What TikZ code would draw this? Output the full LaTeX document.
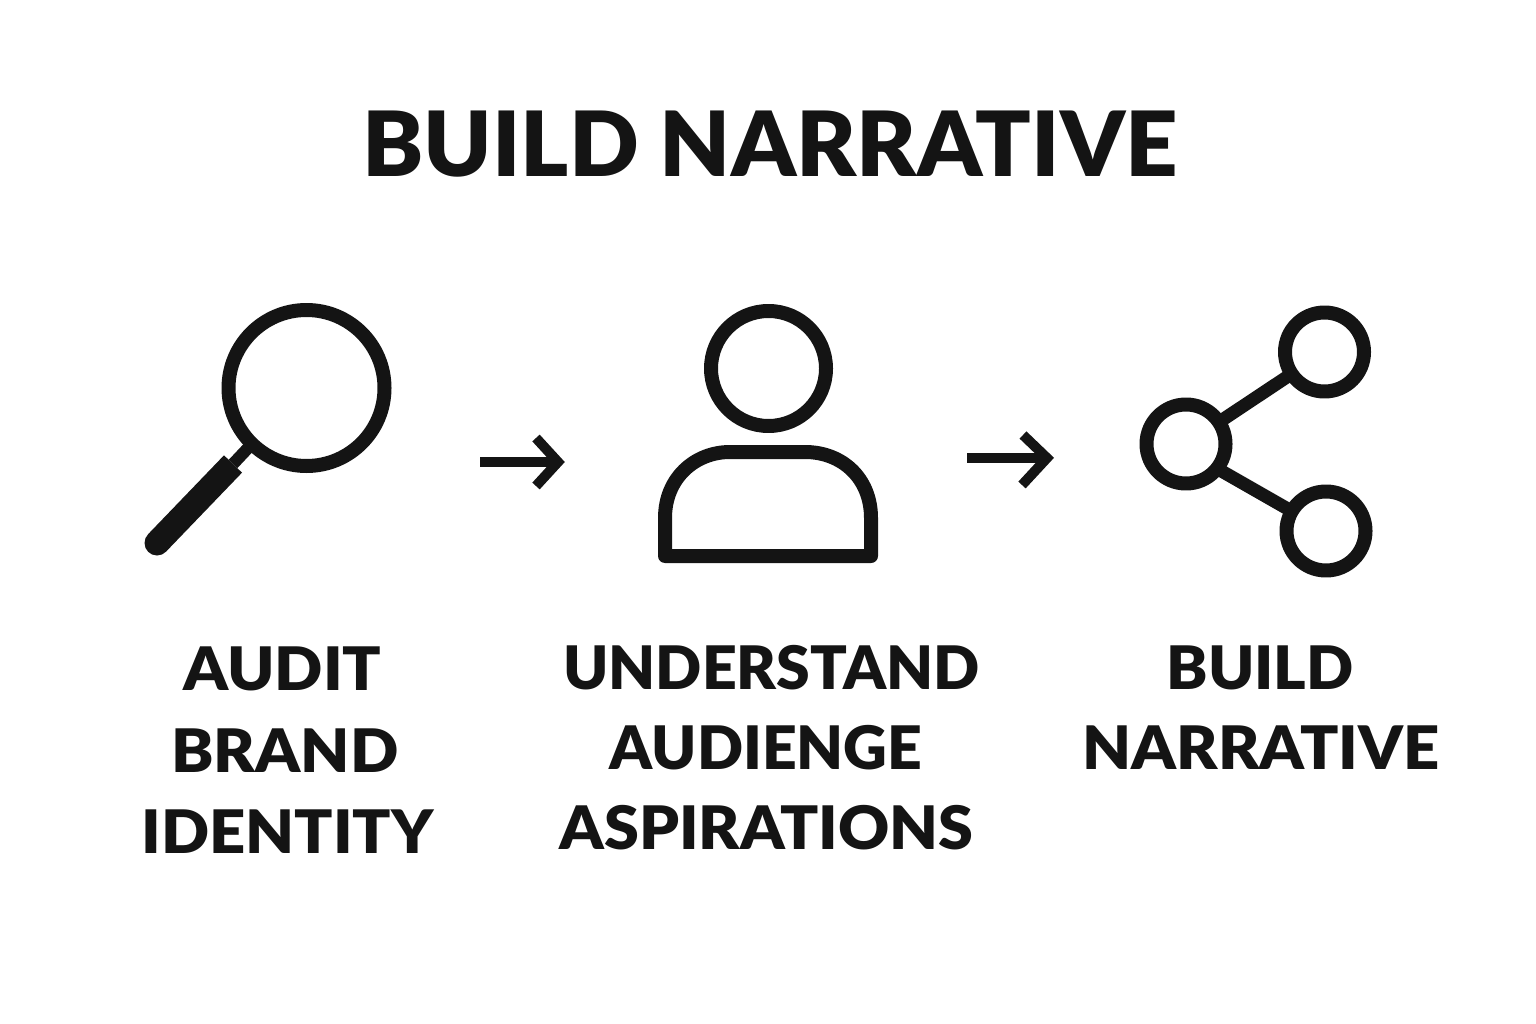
\documentclass[tikz,border=0pt]{standalone}
\usepackage{graphicx}
\usepackage{fontspec}
\setmainfont{Lato}[UprightFont=* Bold,BoldFont=* Black]
\newcommand{\wideby}[2]{\scalebox{#1}[1]{#2}}
\tikzset{
 icon/.style={draw=ink,line width=14pt,line join=round},
 arrowline/.style={draw=ink,line width=10pt,line join=miter},
 spoke/.style={draw=ink,line width=13pt,shorten >=-4pt,shorten <=-4pt},
 txt/.style={text=ink,inner sep=0pt,anchor=center,font=\fontsize{60}{60}\selectfont\bfseries},
 ttl/.style={text=ink,inner sep=0pt,anchor=center,font=\fontsize{90}{90}\selectfont\bfseries}
}
\definecolor{ink}{HTML}{141414}
\begin{document}
\begin{tikzpicture}[x=1pt,y=-1pt]
\useasboundingbox[fill=white] (0,0) rectangle (1536,1024);
\node[ttl] (title) at (770,144) {\wideby{1.019}{BUILD NARRATIVE}};
% magnifier
\node[circle,icon,minimum size=156pt,inner sep=0pt] (lens) at (306.5,388) {};
\coordinate (h0) at (249,447);
\coordinate (h1) at (233,464);
\coordinate (h2) at (157,543);
\draw[ink,line width=12pt] (h0) -- (h1);
\draw[ink,line width=25pt] (h1) -- (h2);
\fill[ink] (h2) circle (12.5pt);
% person
\node[circle,icon,minimum size=115pt,inner sep=0pt] (head) at (768.5,368.5) {};
\draw[icon] (665,556) -- (665,518) .. controls (665,478) and (695,452) .. (730,452) -- (805,452) .. controls (842,452) and (871,478) .. (871,518) -- (871,556) -- cycle;
% network
\node[circle,icon,minimum size=79pt,inner sep=0pt] (n1) at (1324.5,352) {};
\node[circle,icon,minimum size=79pt,inner sep=0pt] (n2) at (1186,444) {};
\node[circle,icon,minimum size=79pt,inner sep=0pt] (n3) at (1326,531) {};
\draw[spoke] (n2) -- (n1);
\draw[spoke] (n2.-37) -- (n3.150);
% arrows
\coordinate (a1s) at (480,462); \coordinate (a1e) at (558,462);
\coordinate (a2s) at (967,458); \coordinate (a2e) at (1047,458);
\draw[arrowline] (a1s) -- (a1e);
\draw[arrowline] (536,438) -- (a1e) -- (536,486);
\draw[arrowline] (a2s) -- (a2e);
\draw[arrowline] (1023,435) -- (a2e) -- (1022,485);
% labels
\node[txt] (l11) at (282.5,669) {\wideby{1.058}{AUDIT}};
\node[txt] (l12) at (285,751) {\wideby{1.06}{BRAND}};
\node[txt] (l13) at (287.5,832) {\wideby{1.054}{IDENTITY}};
\node[txt] (l21) at (771.5,668) {\wideby{1.012}{UNDERSTAND}};
\node[txt] (l22) at (766,748) {\wideby{1.01}{AUDIENGE}};
\node[txt] (l23) at (766.5,828) {\wideby{1.05}{ASPIRATIONS}};
\node[txt] (l31) at (1260,668) {\wideby{1.034}{BUILD}};
\node[txt] (l32) at (1261,748) {\wideby{1.054}{NARRATIVE}};
\end{tikzpicture}
\end{document}
